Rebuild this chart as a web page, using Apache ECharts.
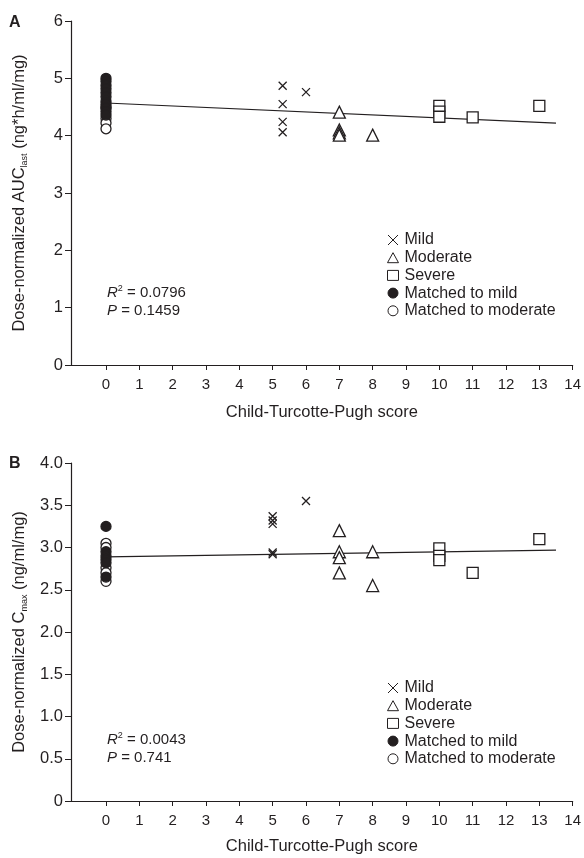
<!DOCTYPE html>
<html>
<head>
<meta charset="utf-8">
<script src="https://cdn.jsdelivr.net/npm/echarts@6/dist/echarts.min.js"></script>
<style>
  html, body { margin: 0; padding: 0; background: #fff; }
  #chart { width: 584px; height: 858px; }
</style>
</head>
<body>
<div id="chart"></div>
<script>
// x tick labels (Child-Turcotte-Pugh score)
var ctpTicks = [0, 1, 2, 3, 4, 5, 6, 7, 8, 9, 10, 11, 12, 13, 14];

// panel A: dose-normalized AUClast
var aMildX = [5.3, 5.3, 5.3, 5.3, 6];
var aMildY = [4.87, 4.55, 4.24, 4.06, 4.76];
var aModX = [7, 7, 7, 7, 8];
var aModY = [4.41, 4.1, 4.05, 4.01, 4.01];
var aSevX = [10, 10, 10, 11, 13];
var aSevY = [4.52, 4.42, 4.33, 4.32, 4.52];
var aMatchMildY = [5.0, 4.95, 4.88, 4.82, 4.75, 4.68, 4.6, 4.55, 4.48, 4.42, 4.36];
var aMatchModY = [4.5, 4.3, 4.22, 4.12];
var aLineX = [0, 13.5];
var aLineY = [4.57, 4.22];

// panel B: dose-normalized Cmax
var bMildX = [5, 5, 5, 5, 5, 6];
var bMildY = [3.37, 3.32, 3.28, 2.94, 2.92, 3.55];
var bModX = [7, 7, 7, 7, 8, 8];
var bModY = [3.2, 2.95, 2.88, 2.7, 2.95, 2.55];
var bSevX = [10, 10, 10, 11, 13];
var bSevY = [2.99, 2.9, 2.85, 2.7, 3.1];
var bMatchMildY = [3.25, 2.95, 2.9, 2.86, 2.82, 2.65];
var bMatchModY = [3.05, 3.0, 2.76, 2.7, 2.6];
var bLineX = [0, 13.5];
var bLineY = [2.89, 2.97];

var ink = '#231f20';
var font = 'Liberation Sans, Arial, sans-serif';
var crossPath = 'path://M0,0L10,10M10,0L0,10';

function pairs(xs, ys) {
    var out = [];
    for (var i = 0; i < ys.length; i++) {
        out.push([Array.isArray(xs) ? xs[i] : xs, ys[i]]);
    }
    return out;
}

function scatterSeries(idx, name, data, symbol, size, filled) {
    return {
        name: name,
        type: 'scatter',
        xAxisIndex: idx,
        yAxisIndex: idx,
        data: data,
        symbol: symbol,
        symbolSize: size,
        itemStyle: {
            color: filled ? ink : '#fff',
            borderColor: ink,
            borderWidth: 1.3,
            opacity: 1
        },
        emphasis: { disabled: true },
        z: filled ? 3 : 2
    };
}

function panelSeries(idx, d) {
    return [
        scatterSeries(idx, 'Matched to moderate', pairs(0, d.matchMod), 'circle', 10, false),
        scatterSeries(idx, 'Matched to mild', pairs(0, d.matchMild), 'circle', 10, true),
        scatterSeries(idx, 'Mild', pairs(d.mildX, d.mildY), crossPath, 8, false),
        scatterSeries(idx, 'Moderate', pairs(d.modX, d.modY), 'triangle', 12, false),
        scatterSeries(idx, 'Severe', pairs(d.sevX, d.sevY), 'rect', 11, false),
        {
            type: 'line',
            xAxisIndex: idx,
            yAxisIndex: idx,
            data: pairs(d.lineX, d.lineY),
            symbol: 'none',
            lineStyle: { color: ink, width: 1.2 },
            z: 1
        }
    ];
}

function xAxisFor(idx, gap) {
    return {
        type: 'value',
        gridIndex: idx,
        min: -1.05,
        max: 14,
        name: 'Child-Turcotte-Pugh score',
        nameLocation: 'middle',
        nameGap: gap,
        nameTextStyle: { color: ink, fontSize: 16.5, fontFamily: font },
        axisLine: { onZero: false, lineStyle: { color: ink, width: 1.2 } },
        axisTick: { show: true, customValues: ctpTicks, length: 5, lineStyle: { color: ink } },
        axisLabel: { customValues: ctpTicks, color: ink, fontSize: 15, fontFamily: font, margin: 12 },
        splitLine: { show: false }
    };
}

function legendFor(top) {
    return {
        orient: 'vertical',
        left: 382,
        top: top,
        itemWidth: 11,
        itemHeight: 10,
        itemGap: 1.7,
        selectedMode: false,
        itemStyle: { borderWidth: 1 },
        textStyle: { color: ink, fontSize: 16, fontFamily: font, padding: [0, 0, 0, 1] },
        data: ['Mild', 'Moderate', 'Severe', 'Matched to mild', 'Matched to moderate']
    };
}

function statsText(top, r2, p) {
    return {
        type: 'text',
        left: 107,
        top: top,
        style: {
            text: '{i|R}{sup|2} = ' + r2 + '\n{i|P} = ' + p,
            fill: ink,
            font: '15px ' + font,
            lineHeight: 18,
            rich: {
                i: { fontStyle: 'italic', fontSize: 15, fontFamily: font, fill: ink, lineHeight: 18 },
                sup: { fontSize: 9, fontFamily: font, fill: ink, verticalAlign: 'top', lineHeight: 18 }
            }
        }
    };
}

var yNameRich = {
    sub: { fontSize: 9, fontFamily: font, color: ink, verticalAlign: 'bottom', lineHeight: 19 }
};

var chart = echarts.init(document.getElementById('chart'));
var option = {
    backgroundColor: '#fff',
    animation: false,
    grid: [
        { left: 71, right: 11, top: 21, bottom: 493 },
        { left: 71, right: 11, top: 463, bottom: 57 }
    ],
    xAxis: [xAxisFor(0, 39), xAxisFor(1, 37)],
    yAxis: [
        {
            type: 'value',
            gridIndex: 0,
            min: 0,
            max: 6,
            interval: 1,
            name: 'Dose-normalized AUC{sub|last} (ng*h/ml/mg)',
            nameLocation: 'middle',
            nameGap: 42,
            nameTextStyle: { color: ink, fontSize: 16.5, fontFamily: font, lineHeight: 19, rich: yNameRich },
            axisLine: { show: true, onZero: false, lineStyle: { color: ink, width: 1.2 } },
            axisTick: { show: true, length: 6, lineStyle: { color: ink } },
            axisLabel: { color: ink, fontSize: 16.5, fontFamily: font, margin: 8 },
            splitLine: { show: false }
        },
        {
            type: 'value',
            gridIndex: 1,
            min: 0,
            max: 4,
            interval: 0.5,
            name: 'Dose-normalized C{sub|max} (ng/ml/mg)',
            nameLocation: 'middle',
            nameGap: 42,
            nameTextStyle: { color: ink, fontSize: 16.5, fontFamily: font, lineHeight: 19, rich: yNameRich },
            axisLine: { show: true, onZero: false, lineStyle: { color: ink, width: 1.2 } },
            axisTick: { show: true, length: 6, lineStyle: { color: ink } },
            axisLabel: {
                color: ink, fontSize: 16.5, fontFamily: font, margin: 8,
                formatter: function (v) { return v === 0 ? '0' : v.toFixed(1); }
            },
            splitLine: { show: false }
        }
    ],
    legend: [legendFor(227), legendFor(675)],
    graphic: [
        { type: 'text', left: 9, top: 15, style: { text: 'A', font: 'bold 16px ' + font, fill: ink } },
        { type: 'text', left: 9, top: 456, style: { text: 'B', font: 'bold 16px ' + font, fill: ink } },
        statsText(284, '0.0796', '0.1459'),
        statsText(731, '0.0043', '0.741')
    ],
    series: panelSeries(0, {
        matchMod: aMatchModY, matchMild: aMatchMildY,
        mildX: aMildX, mildY: aMildY, modX: aModX, modY: aModY,
        sevX: aSevX, sevY: aSevY, lineX: aLineX, lineY: aLineY
    }).concat(panelSeries(1, {
        matchMod: bMatchModY, matchMild: bMatchMildY,
        mildX: bMildX, mildY: bMildY, modX: bModX, modY: bModY,
        sevX: bSevX, sevY: bSevY, lineX: bLineX, lineY: bLineY
    }))
};
chart.setOption(option);
</script>
</body>
</html>
